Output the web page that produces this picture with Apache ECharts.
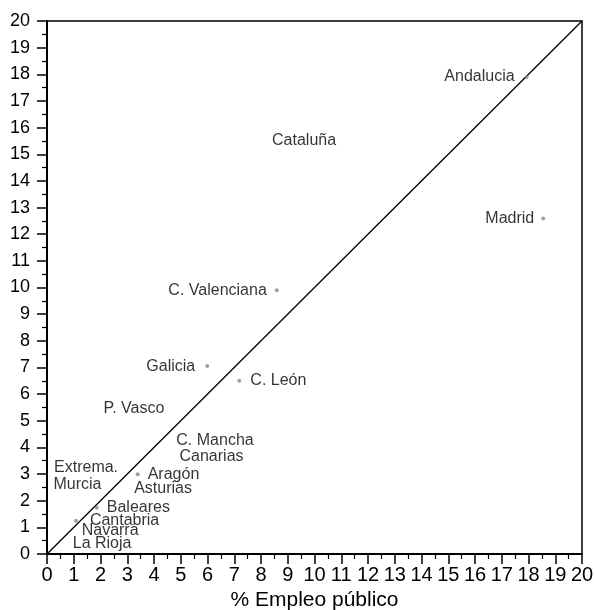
<!DOCTYPE html>
<html>
<head>
<meta charset="utf-8">
<style>
html,body{margin:0;padding:0;background:#fff;}
#chart{width:594px;height:610px;}
</style>
<script src="https://cdn.jsdelivr.net/npm/echarts@6/dist/echarts.min.js"></script>
</head>
<body>
<div id="chart"></div>
<script>
// Data
var regions = ['Andalucia','Madrid','Cataluña','C. Valenciana','Galicia','C. León','P. Vasco','C. Mancha','Canarias','Extrema.','Aragón','Murcia','Asturias','Baleares','Cantabria','Navarra','La Rioja'];
var empleo  = [17.93, 18.55, 9.61, 8.59, 5.99, 7.19, 3.25, 6.28, 6.15, 1.46, 3.39, 1.14, 4.34, 1.86, 1.08, 2.36, 2.06];
var poblacion = [17.9, 12.59, 15.52, 9.9, 7.05, 6.5, 5.47, 4.24, 3.65, 3.26, 2.99, 2.59, 2.44, 1.74, 1.25, 0.88, 0.4];
var diagonal = [[0,0],[20,20]];
var axisTicks = {min:0, max:20, interval:1};

// Label layout (style only)
var labelSide = ['left','left','inside','left','left','right','inside','inside','inside','inside','right','inside','inside','right','right','inside','inside'];
var labelDist = [10,7,0,8,10,9,0,0,0,0,8,0,0,8,12,0,0];

var data = regions.map(function(n,i){
  var hidden = labelSide[i] === 'inside';
  return {
    name: n,
    value: [empleo[i], poblacion[i]],
    symbolSize: hidden ? 0 : 4,
    label: {position: labelSide[i], distance: labelDist[i]}
  };
});

var chart = echarts.init(document.getElementById('chart'));
chart.setOption({
  animation:false,
  backgroundColor:'#fff',
  grid:{left:47, right:12, top:21, bottom:56, show:true, borderColor:'#000', borderWidth:1.5, backgroundColor:'transparent', outerBoundsMode:'none', containLabel:false},
  xAxis:{
    type:'value', min:axisTicks.min, max:axisTicks.max, interval:axisTicks.interval,
    name:'% Empleo público', nameLocation:'middle', nameGap:32,
    nameTextStyle:{fontFamily:'Arial, "Liberation Sans", sans-serif', fontSize:21, color:'#000'},
    axisLine:{show:true, lineStyle:{color:'#000', width:2}},
    axisTick:{show:true, length:10, lineStyle:{color:'#000', width:1.5}},
    minorTick:{show:true, splitNumber:2, length:5, lineStyle:{color:'#000', width:1.2}},
    axisLabel:{margin:11, fontSize:20, color:'#000', fontFamily:'"Liberation Sans Narrow", Arial, sans-serif'},
    splitLine:{show:false}
  },
  yAxis:{
    type:'value', min:axisTicks.min, max:axisTicks.max, interval:axisTicks.interval,
    axisLine:{show:true, lineStyle:{color:'#000', width:2}},
    axisTick:{show:true, length:10, lineStyle:{color:'#000', width:1.5}},
    minorTick:{show:true, splitNumber:2, length:5, lineStyle:{color:'#000', width:1.2}},
    axisLabel:{margin:17, fontSize:18, color:'#000', fontFamily:'Arial, "Liberation Sans", sans-serif'},
    splitLine:{show:false}
  },
  series:[
    {
      type:'line', data:diagonal, symbol:'none', silent:true,
      lineStyle:{color:'#000', width:1.3}, z:1
    },
    {
      type:'scatter', data:data, symbol:'circle',
      itemStyle:{color:'#888'}, z:3,
      label:{show:true, formatter:'{b}', fontSize:16, color:'#000', fontFamily:'Arial, "Liberation Sans", sans-serif'}
    }
  ]
});
</script>
</body>
</html>
